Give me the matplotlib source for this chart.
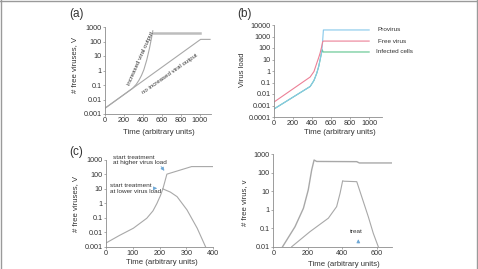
import matplotlib
matplotlib.use("Agg")
import matplotlib.pyplot as plt
from matplotlib.lines import Line2D

# ---- data ----
# (a) free virus with / without increased viral output
a_t_slow = [0, 1010, 1110]
a_v_slow = [0.0025, 140, 140]
a_t_fast = [0, 290, 330, 360, 385, 410, 441, 470, 494, 505]
a_v_fast = [0.0025, 0.058, 0.11, 0.22, 0.45, 1.1, 5.3, 34, 214, 550]
a_t_plateau = [510, 1000]
a_v_plateau = [360, 360]

# (b) virus load components
b_t_free = [0, 380, 420, 449, 470, 484, 500, 512, 518, 1000]
b_v_free = [0.002, 0.3, 0.9, 4.7, 15, 35, 120, 355, 400, 400]
b_t_pro = [0, 380, 420, 449, 470, 484, 502, 512, 519, 1000]
b_v_pro = [0.0005, 0.045, 0.15, 0.63, 2.5, 9, 48, 500, 3700, 3700]
b_t_inf = [0, 380, 420, 449, 470, 484, 502, 508, 515, 1000]
b_v_inf = [0.0005, 0.045, 0.15, 0.63, 2.5, 9, 48, 70, 45, 45]
b_names = ["Provirus", "Free virus", "Infected cells"]

# (c) treatment start
c_t_rise = [0, 50, 102, 152, 175, 190, 203, 212]
c_v_rise = [0.0018, 0.006, 0.019, 0.093, 0.3, 1.0, 3.5, 10]
c_t_high = [212, 220, 227, 319, 400]
c_v_high = [10, 35, 105, 350, 350]
c_t_low = [212, 240, 265, 302, 340, 371]
c_v_low = [10, 6, 2.9, 0.35, 0.019, 0.001]

# (d) two infections, treatment
d_t_1 = [54, 126, 175, 203, 223, 237, 252, 485, 500, 688]
d_v_1 = [0.01, 0.12, 1.2, 11.7, 142, 490, 410, 400, 340, 340]
d_t_2 = [107, 213, 320, 368, 388, 403, 410, 485, 514, 552, 581, 610]
d_v_2 = [0.01, 0.065, 0.35, 1.47, 7.8, 37, 35, 33, 5, 0.42, 0.053, 0.01]

xt_a = [0, 200, 400, 600, 800, 1000]
yt_a = [0.001, 0.01, 0.1, 1, 10, 100, 1000]
yl_a = ["0.001", "0.01", "0.1", "1", "10", "100", "1000"]
yt_b = [0.0001, 0.001, 0.01, 0.1, 1, 10, 100, 1000, 10000]
yl_b = ["0.0001", "0.001", "0.01", "0.1", "1", "10", "100", "1000", "10000"]
xt_c = [0, 100, 200, 300, 400]
xt_d = [0, 200, 400, 600]
yt_d = [0.01, 0.1, 1, 10, 100, 1000]
yl_d = ["0.01", "0.1", "1", "10", "100", "1000"]

plt.rcParams["font.family"] = ["Liberation Sans", "DejaVu Sans"]

W, H = 478, 269
fig = plt.figure(figsize=(W / 100, H / 100), dpi=100)

GRAY = "#a8a8a8"
SPINE = "#8c8c8c"
TXT = "#333333"
BLUE = "#6fa8d6"
fs = 5.2


def rect(l, t, r, b):
    return [l / W, 1 - b / H, (r - l) / W, (b - t) / H]


def style(ax, xlim, ylim, xt, yt, yl):
    ax.set_yscale("log")
    ax.set_xlim(*xlim)
    ax.set_ylim(*ylim)
    ax.set_xticks(xt)
    ax.set_xticklabels([str(v) for v in xt])
    ax.set_yticks(yt)
    ax.set_yticklabels(yl)
    ax.minorticks_off()
    for s in ["top", "right"]:
        ax.spines[s].set_visible(False)
    for s in ["left", "bottom"]:
        ax.spines[s].set_color(SPINE)
        ax.spines[s].set_linewidth(0.6)
    ax.tick_params(labelsize=fs, colors=SPINE, labelcolor=TXT, length=1.5, width=0.5, pad=1)
    ax.patch.set_alpha(0)


def fig_text(x, y, s, **kw):
    fig.text(x / W, 1 - y / H, s, fontsize=kw.pop("fontsize", 5.6), color=TXT,
             ha=kw.pop("ha", "center"), va=kw.pop("va", "center"), **kw)


# ---- (a) ----
ax = fig.add_axes(rect(105, 27, 211, 114))
style(ax, (0, 1120), (1e-3, 1e3), xt_a, yt_a, yl_a)
ax.plot(a_t_slow, a_v_slow, color=GRAY, lw=0.8)
ax.plot(a_t_fast, a_v_fast, color=GRAY, lw=0.8)
ax.plot(a_t_plateau, a_v_plateau, color="#bdbdbd", lw=1.8)
ax.text(372, 7, "increased viral output", rotation=66, fontsize=4.4, color=TXT,
        ha="center", va="center")
ax.text(688, 0.6, "no increased viral output", rotation=35, fontsize=4.4, color=TXT,
        ha="center", va="center")
fig_text(76, 14, "(a)", fontsize=8.5)
fig_text(75, 65, "# free viruses, V", rotation=90)
fig_text(159, 132, "Time (arbitrary units)")

# ---- (b) ----
ax = fig.add_axes(rect(274, 25, 382, 117))
style(ax, (0, 1135), (1e-4, 1e4), xt_a, yt_b, yl_b)
ax.plot(b_t_inf, b_v_inf, color="#5cc48c", lw=0.8)
ax.plot(b_t_pro, b_v_pro, color="#86c8ea", lw=0.8)
ax.plot(b_t_free, b_v_free, color="#ec8096", lw=0.8)
for name, yv in zip(b_names, [3700, 400, 45]):
    ax.text(1090 if name != "Infected cells" else 1075, yv, name, fontsize=4.6,
            color=TXT, ha="left", va="center", clip_on=False)
fig_text(244, 14, "(b)", fontsize=8.5)
fig_text(242, 70, "Virus load", rotation=90)
fig_text(340, 133, "Time (arbitrary units)")

# ---- (c) ----
ax = fig.add_axes(rect(106, 160, 213.3, 246.7))
style(ax, (0, 400), (1e-3, 1e3), xt_c, yt_a, yl_a)
ax.plot(c_t_rise, c_v_rise, color=GRAY, lw=0.8)
ax.plot(c_t_high, c_v_high, color=GRAY, lw=0.8)
ax.plot(c_t_low, c_v_low, color=GRAY, lw=0.8)
ax.annotate("", xy=(224, 125), xytext=(199, 500),
            arrowprops=dict(arrowstyle="-|>", color=BLUE, lw=0.6, mutation_scale=5))
ax.annotate("", xy=(201, 11), xytext=(170, 11),
            arrowprops=dict(arrowstyle="-|>", color=BLUE, lw=0.6, mutation_scale=5))
ax.text(26, 1000, "start treatment\nat higher virus load", fontsize=4.6, color=TXT,
        ha="left", va="center", linespacing=1.15, clip_on=False)
ax.text(15, 11, "start treatment\nat lower virus load", fontsize=4.6, color=TXT,
        ha="left", va="center", linespacing=1.15, clip_on=False)
fig_text(76, 152, "(c)", fontsize=8.5)
fig_text(76, 204, "# free viruses, V", rotation=90)
fig_text(162, 263, "Time (arbitrary units)")

# ---- (d) ----
ax = fig.add_axes(rect(273.3, 154.3, 391.7, 246.7))
style(ax, (0, 688), (1e-2, 1e3), xt_d, yt_d, yl_d)
ax.plot(d_t_1, d_v_1, color=GRAY, lw=1.0)
ax.plot(d_t_2, d_v_2, color=GRAY, lw=0.8)
ax.annotate("", xy=(494, 0.036), xytext=(494, 0.0115),
            arrowprops=dict(arrowstyle="-|>", color=BLUE, lw=0.6, mutation_scale=5))
ax.text(485, 0.07, "treat", fontsize=4.6, color=TXT, ha="center", va="center")
fig_text(245, 203, "# free virus, v", rotation=90)
fig_text(344, 264, "Time (arbitrary units)")

# frame around the figure (top, left, right)
for xs, ys in [([0, 1], [0.997, 0.997]), ([0.002, 0.002], [0, 1]), ([0.998, 0.998], [0, 1])]:
    fig.add_artist(Line2D(xs, ys, transform=fig.transFigure, color="#9a9a9a", lw=1.0))

fig.savefig("out.png", dpi=100)
